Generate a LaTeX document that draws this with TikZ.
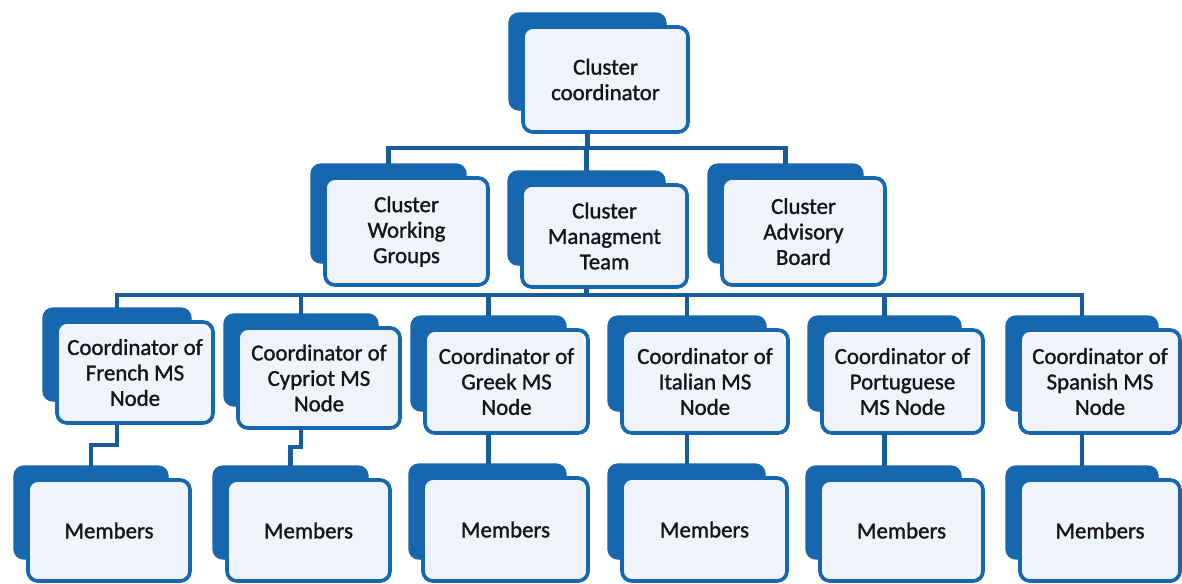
\documentclass[tikz,border=0pt]{standalone}
\usepackage{fontspec}
\setmainfont{Carlito}
\newfontfamily\boxfont{Carlito}[FakeBold=1.3]
\definecolor{cblue}{HTML}{1667AE}
\definecolor{cline}{HTML}{185C9C}
\definecolor{cfill}{HTML}{EFF4FA}
\definecolor{ctext}{HTML}{151515}
\tikzset{
  backbox/.style={fill=cblue, draw=cblue, line width=0.8pt, rounded corners=0.2cm, inner sep=0pt, outer sep=0pt},
  frontbox/.style={fill=cfill, draw=cblue, line width=2.1pt, rounded corners=0.2cm, inner sep=0pt, outer sep=0pt,
    align=center, font=\boxfont\fontsize{13}{14.5}\selectfont, text=ctext},
  conn/.style={draw=cline, line width=2.3pt}
}
\newcommand\obox[6]{%
  \node[backbox, minimum width={(#4-#2-8)*0.02cm}, minimum height={(#5-#3-8)*0.02cm}]
    (#1-b) at ({(#2+#4)/2-18},{(#3+#5)/2-18}) {};
  \node[frontbox, minimum width={(#4-#2)*0.02cm}, minimum height={(#5-#3)*0.02cm}]
    (#1) at ({(#2+#4)/2},{(#3+#5)/2}) {#6};
}
\begin{document}
\begin{tikzpicture}[x=0.02cm,y=-0.02cm]
\useasboundingbox[fill=white] (0,0) rectangle (1182,583);
\obox{top}{523}{27}{688}{132}{Cluster\\coordinator}
\obox{wg}{325}{178}{488}{285}{Cluster\\Working\\Groups}
\obox{mt}{522}{185}{687}{287}{Cluster\\Managment\\Team}
\obox{ab}{722}{178}{885}{285}{Cluster\\Advisory\\Board}
\obox{fr}{57}{322}{213}{423}{Coordinator of\\French MS\\Node}
\obox{cy}{238}{328}{400}{428}{Coordinator of\\Cypriot MS\\Node}
\obox{gr}{425}{330}{588}{433}{Coordinator of\\Greek MS\\Node}
\obox{it}{622}{330}{788}{433}{Coordinator of\\Italian MS\\Node}
\obox{po}{822}{330}{983}{433}{Coordinator of\\Portuguese\\MS Node}
\obox{sp}{1020}{330}{1180}{433}{Coordinator of\\Spanish MS\\Node}
\obox{mfr}{28}{480}{190}{581}{Members}
\obox{mcy}{227}{480}{390}{581}{Members}
\obox{mgr}{423}{478}{588}{581}{Members}
\obox{mit}{622}{478}{787}{581}{Members}
\obox{mpo}{820}{480}{983}{581}{Members}
\obox{msp}{1020}{480}{1180}{581}{Members}
\coordinate (bus1) at (0,148);
\coordinate (bus2) at (0,295);
\coordinate (k1) at (0,445);
\coordinate (k2) at (0,447);
\draw[conn] (top-b |- top.south) -- (top-b |- bus1);
\draw[conn] (wg-b.north) -- (wg-b |- bus1) -- (ab-b |- bus1) -- (ab-b.north);
\draw[conn] (mt-b |- bus1) -- (mt-b.north);
\draw[conn] (mt-b |- mt.south) -- (mt-b |- bus2);
\draw[conn] (fr-b.north) -- (fr-b |- bus2) -- (sp-b |- bus2) -- (sp-b.north);
\foreach \n in {cy,gr,it,po}{\draw[conn] (\n-b |- bus2) -- (\n-b.north);}
\draw[conn] (fr-b |- fr.south) -- (fr-b |- k1) -- (mfr-b |- k1) -- (mfr-b.north);
\draw[conn] (cy-b |- cy.south) -- (cy-b |- k2) -- (mcy-b |- k2) -- (mcy-b.north);
\foreach \n in {gr,it,po,sp}{\draw[conn] (\n-b |- \n.south) -- (\n-b |- m\n-b.north);}
\end{tikzpicture}
\end{document}
